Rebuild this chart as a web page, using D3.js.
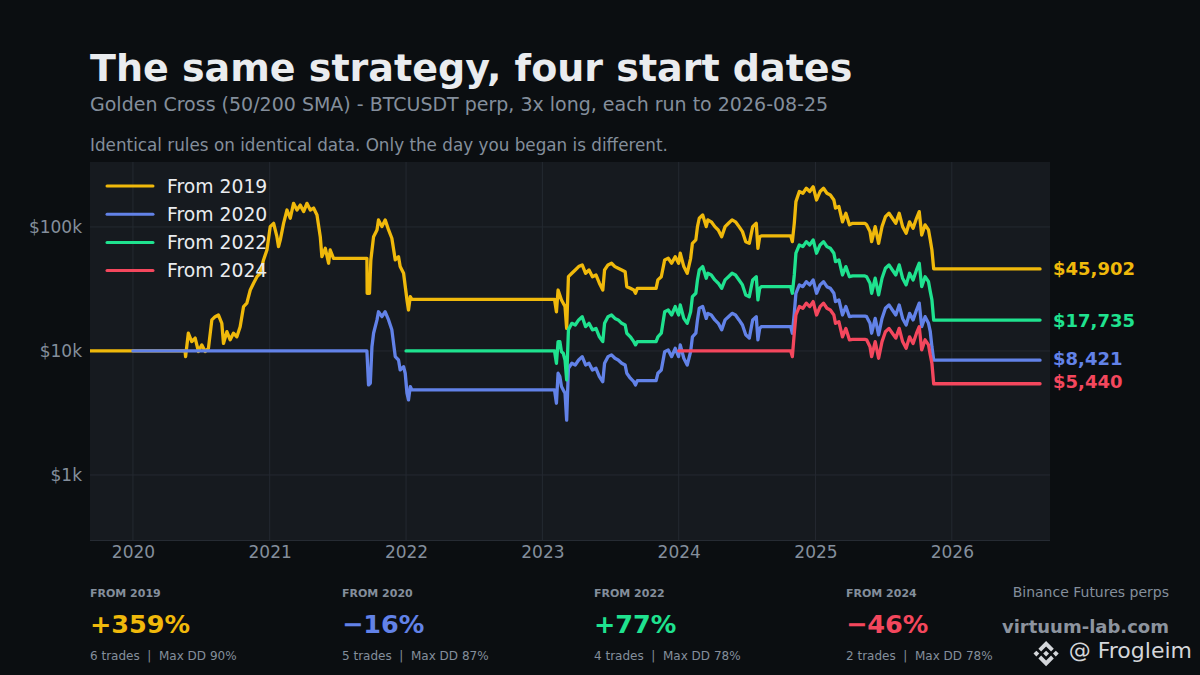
<!DOCTYPE html>
<html><head><meta charset="utf-8">
<script src="https://cdn.jsdelivr.net/npm/d3@7"></script>
<style>
html,body{margin:0;padding:0;background:#0b0e11;}
svg{display:block;font-family:"DejaVu Sans",sans-serif;}
</style></head><body>
<svg id="c" width="1200" height="675"></svg>
<script>
// ---------- data (x = decimal year, y = equity in USD) ----------
const seriesNames = ["From 2019", "From 2020", "From 2022", "From 2024"];
const seriesColors = ["#f0b90b", "#6282e8", "#1fe28f", "#f4475d"];
const finalValues = [45902, 8421, 17735, 5440];

const from2019 = [
[2019.685,10000],[2020.381,10000],[2020.385,9000],[2020.405,13900],[2020.430,11900],[2020.455,12700],[2020.479,9900],[2020.504,11200],[2020.528,9900],[2020.552,10500],[2020.577,17800],[2020.601,18900],[2020.625,19500],[2020.650,16700],[2020.662,11500],[2020.687,14300],[2020.711,12300],[2020.735,13900],[2020.760,13000],[2020.784,15700],[2020.809,22800],[2020.833,24300],[2020.858,31000],[2020.882,35200],[2020.907,39700],[2020.931,42300],[2020.955,54200],[2020.980,65200],[2021.004,100600],[2021.029,107000],[2021.053,83500],[2021.065,69400],[2021.078,78600],[2021.102,107000],[2021.127,137000],[2021.151,117500],[2021.175,155000],[2021.200,137000],[2021.224,150000],[2021.249,133000],[2021.273,155000],[2021.298,137000],[2021.322,142000],[2021.347,125000],[2021.371,83500],[2021.383,57600],[2021.408,67300],[2021.432,51000],[2021.444,65200],[2021.468,55900],[2021.713,55900],[2021.715,29200],[2021.732,29200],[2021.742,54200],[2021.762,83500],[2021.787,94600],[2021.798,114000],[2021.823,100600],[2021.847,114000],[2021.872,94600],[2021.896,81100],[2021.921,54200],[2021.945,57600],[2021.957,47900],[2021.982,42300],[2022.007,25800],[2022.018,21400],[2022.031,27400],[2022.043,26100],[2023.089,26100],
[2023.103,20700],[2023.115,31000],[2023.140,25800],[2023.166,22800],[2023.178,15200],[2023.191,39700],[2023.216,42300],[2023.241,45000],[2023.266,47900],[2023.292,49400],[2023.317,42300],[2023.342,45000],[2023.367,39700],[2023.393,41000],[2023.418,35200],[2023.443,31000],[2023.456,45000],[2023.481,49400],[2023.507,51000],[2023.532,47900],[2023.556,46400],[2023.582,45000],[2023.607,43600],[2023.619,33000],[2023.645,32000],[2023.670,31000],[2023.683,29200],[2023.696,32000],[2023.834,32000],[2023.847,37400],[2023.872,39700],[2023.897,54200],[2023.923,55900],[2023.948,51000],[2023.974,57600],[2023.999,51000],[2024.011,61400],[2024.037,47900],[2024.062,42300],[2024.087,55900],[2024.100,73800],[2024.125,78600],[2024.137,100600],[2024.150,117500],[2024.175,125000],[2024.201,100600],[2024.213,114000],[2024.238,110000],[2024.264,100600],[2024.289,94600],[2024.314,83500],[2024.339,100600],[2024.364,107000],[2024.390,114000],[2024.415,110000],[2024.441,100600],[2024.466,91700],[2024.490,76100],[2024.516,73800],[2024.541,100600],[2024.567,107000],[2024.579,67300],[2024.592,83500],[2024.604,84600],[2024.819,84600],[2024.831,76100],[2024.845,107000],[2024.857,160000],[2024.882,193000],[2024.908,187000],[2024.933,205000],[2024.958,193000],[2024.983,211000],[2025.008,165000],[2025.034,193000],[2025.059,205000],[2025.084,187000],[2025.109,181000],[2025.135,165000],[2025.147,142000],[2025.172,146000],[2025.198,110000],[2025.223,129000],[2025.249,104000],[2025.273,107000],[2025.362,107000],[2025.375,104000],[2025.400,91700],[2025.412,76100],[2025.438,100600],[2025.463,73800],[2025.488,100600],[2025.513,121000],[2025.539,129000],[2025.564,117500],[2025.589,107000],[2025.614,129000],[2025.639,100600],[2025.665,89000],[2025.690,110000],[2025.716,97600],[2025.741,117500],[2025.761,133000],[2025.779,86100],[2025.804,104000],[2025.829,94600],[2025.842,78600],[2025.854,65200],[2025.867,45902],[2026.647,45902]
];

const from2020 = [
[2020.0,10000],[2021.713,10000],[2021.725,5320],[2021.738,5490],[2021.750,10800],[2021.762,13900],[2021.787,17800],[2021.798,20700],[2021.823,18900],[2021.847,20700],[2021.872,17800],[2021.896,14800],[2021.921,9000],[2021.945,8460],[2021.957,7030],[2021.982,7470],[2021.994,6610],[2022.007,4560],[2022.018,4030],[2022.031,5160],[2022.043,4850],[2023.089,4850],[2023.103,3790],[2023.115,6610],[2023.128,6210],[2023.140,5160],[2023.153,4850],[2023.166,4560],[2023.178,2770],[2023.191,7250],[2023.216,7960],[2023.241,7710],[2023.266,8460],[2023.292,9000],[2023.317,7710],[2023.342,7960],[2023.367,7030],[2023.393,7250],[2023.418,6210],[2023.443,5650],[2023.456,7960],[2023.481,9000],[2023.507,9300],[2023.532,8730],[2023.556,8460],[2023.582,7960],[2023.607,7710],[2023.619,6610],[2023.645,6030],[2023.670,5650],[2023.683,5320],[2023.696,5760],[2023.834,5760],[2023.847,6610],[2023.872,7030],[2023.897,9870],[2023.923,10200],[2023.948,9000],[2023.974,10500],[2023.999,9000],[2024.011,11200],[2024.037,8730],[2024.062,7710],[2024.087,9870],[2024.100,13000],[2024.125,13900],[2024.137,17800],[2024.150,22100],[2024.175,22800],[2024.201,18300],[2024.213,20100],[2024.238,19500],[2024.264,17800],[2024.289,16700],[2024.314,14800],[2024.339,17800],[2024.364,18900],[2024.390,20100],[2024.415,19500],[2024.441,17800],[2024.466,16200],[2024.490,13500],[2024.516,12700],[2024.541,17800],[2024.567,18900],[2024.579,12300],[2024.592,15200],[2024.604,15700],[2024.819,15700],[2024.831,13900],[2024.845,20100],[2024.857,29200],[2024.882,34100],[2024.908,33000],[2024.933,36200],[2024.958,34100],[2024.983,37400],[2025.008,29200],[2025.034,34100],[2025.059,36200],[2025.084,33000],[2025.109,32000],[2025.135,29200],[2025.147,25000],[2025.172,25800],[2025.198,19500],[2025.223,22800],[2025.249,18900],[2025.273,19100],[2025.362,19100],[2025.375,18900],[2025.400,16700],[2025.412,13900],[2025.438,18300],[2025.463,13500],[2025.488,18300],[2025.513,22100],[2025.539,23500],[2025.564,21400],[2025.589,19500],[2025.614,23500],[2025.639,18300],[2025.665,16200],[2025.690,20100],[2025.716,17800],[2025.741,21400],[2025.761,24300],[2025.779,15700],[2025.804,18900],[2025.829,16700],[2025.842,14300],[2025.854,10800],[2025.867,8421],[2026.647,8421]
];

const from2022 = [
[2022.0,10000],[2023.089,10000],[2023.103,7960],[2023.115,11900],[2023.128,11900],[2023.140,9870],[2023.153,9580],[2023.166,8460],[2023.178,5840],[2023.191,14800],[2023.216,16700],[2023.241,16200],[2023.266,17800],[2023.292,18900],[2023.317,15700],[2023.342,16700],[2023.367,14800],[2023.393,15200],[2023.418,13000],[2023.443,11900],[2023.456,16700],[2023.481,18900],[2023.507,19500],[2023.532,18300],[2023.556,17800],[2023.582,16700],[2023.607,16200],[2023.619,13900],[2023.645,13000],[2023.670,11900],[2023.683,11200],[2023.696,11900],[2023.834,11900],[2023.847,13000],[2023.872,13900],[2023.897,20700],[2023.923,21400],[2023.948,19500],[2023.974,22800],[2023.999,19500],[2024.011,23500],[2024.037,18300],[2024.062,16700],[2024.087,20700],[2024.100,27400],[2024.125,29200],[2024.137,37400],[2024.150,45000],[2024.175,47900],[2024.201,38600],[2024.213,42300],[2024.238,41000],[2024.264,37400],[2024.289,35200],[2024.314,32000],[2024.339,37400],[2024.364,39700],[2024.390,42300],[2024.415,41000],[2024.441,37400],[2024.466,34100],[2024.490,28300],[2024.516,27400],[2024.541,37400],[2024.567,39700],[2024.579,25800],[2024.592,32000],[2024.604,33000],[2024.819,33000],[2024.831,29200],[2024.845,41000],[2024.857,61400],[2024.882,71600],[2024.908,69400],[2024.933,76100],[2024.958,71600],[2024.983,78600],[2025.008,61400],[2025.034,71600],[2025.059,76100],[2025.084,69400],[2025.109,67300],[2025.135,61400],[2025.147,52500],[2025.172,54200],[2025.198,41000],[2025.223,47900],[2025.249,39700],[2025.273,40300],[2025.362,40300],[2025.375,39700],[2025.400,35200],[2025.412,29200],[2025.438,38600],[2025.463,28300],[2025.488,38600],[2025.513,46400],[2025.539,49400],[2025.564,45000],[2025.589,41000],[2025.614,49400],[2025.639,38600],[2025.665,34100],[2025.690,42300],[2025.716,37400],[2025.741,45000],[2025.761,51000],[2025.779,33000],[2025.804,39700],[2025.829,36200],[2025.842,30100],[2025.854,25800],[2025.867,17735],[2026.647,17735]
];

const from2024 = [
[2024.0,10000],[2024.819,10000],[2024.831,9000],[2024.845,13900],[2024.857,19500],[2024.882,22800],[2024.908,22100],[2024.933,24300],[2024.958,22800],[2024.983,25000],[2025.008,19500],[2025.034,22800],[2025.059,24300],[2025.084,22100],[2025.109,21400],[2025.135,19500],[2025.147,16700],[2025.172,17200],[2025.198,13000],[2025.223,15200],[2025.249,12300],[2025.273,12400],[2025.362,12400],[2025.375,12300],[2025.400,10800],[2025.412,9000],[2025.438,11900],[2025.463,8730],[2025.488,11900],[2025.513,14300],[2025.539,15200],[2025.564,13900],[2025.589,12700],[2025.614,15200],[2025.639,11900],[2025.665,10500],[2025.690,13000],[2025.716,11500],[2025.741,13900],[2025.761,15700],[2025.779,10200],[2025.804,12300],[2025.829,11200],[2025.842,9280],[2025.854,7960],[2025.867,5440],[2026.647,5440]
];

const yTickValues = [1000, 10000, 100000];
const yTickLabels = ["$1k", "$10k", "$100k"];
const xTickYears = [2020, 2021, 2022, 2023, 2024, 2025, 2026];

const statLabels = ["FROM 2019", "FROM 2020", "FROM 2022", "FROM 2024"];
const statReturns = [359, -16, 77, -46];
const statTrades = [6, 5, 4, 2];
const statMaxDD = [90, 87, 78, 78];

// ---------- helpers ----------
const toDate = v => {
  const yr = Math.floor(v);
  const a = Date.UTC(yr, 0, 1), b = Date.UTC(yr + 1, 0, 1);
  return new Date(a + (v - yr) * (b - a));
};
const allSeries = [from2019, from2020, from2022, from2024];

const svg = d3.select("#c");
const W = 1200, H = 675;
const P = {l: 90, r: 1050, t: 162, b: 540};

svg.append("rect").attr("width", W).attr("height", H).attr("fill", "#0b0e11");

const x = d3.scaleUtc().domain([toDate(2019.685), toDate(2026.72)]).range([P.l, P.r]);
const y = d3.scaleLog().domain([299, 334000]).range([P.b, P.t]);

// titles
svg.append("text").attr("x", 90).attr("y", 81).attr("fill", "#eaecef")
  .attr("font-size", 38).attr("font-weight", "bold")
  .text("The same strategy, four start dates");
svg.append("text").attr("x", 90).attr("y", 111).attr("fill", "#848e9c")
  .attr("font-size", 19)
  .text("Golden Cross (50/200 SMA) - BTCUSDT perp, 3x long, each run to 2026-08-25");
svg.append("text").attr("x", 90).attr("y", 151).attr("fill", "#848e9c")
  .attr("font-size", 16.8)
  .text("Identical rules on identical data. Only the day you began is different.");

// plot background
svg.append("rect").attr("x", P.l).attr("y", P.t).attr("width", P.r - P.l).attr("height", P.b - P.t)
  .attr("fill", "#161a1f");

// grid
const grid = svg.append("g");
grid.selectAll("line.v").data(xTickYears).join("line")
  .attr("x1", d => x(toDate(d))).attr("x2", d => x(toDate(d)))
  .attr("y1", P.t).attr("y2", P.b).attr("stroke", "#242931").attr("stroke-width", 1);
grid.selectAll("line.h").data(yTickValues).join("line")
  .attr("x1", P.l).attr("x2", P.r)
  .attr("y1", d => y(d)).attr("y2", d => y(d)).attr("stroke", "#242931").attr("stroke-width", 1);
svg.append("line").attr("x1", P.l).attr("x2", P.r).attr("y1", P.b + 0.5).attr("y2", P.b + 0.5)
  .attr("stroke", "#262b33");

// axes
const xAxis = d3.axisBottom(x).tickValues(xTickYears.map(toDate))
  .tickFormat(d3.utcFormat("%Y")).tickSize(0).tickPadding(6);
const gx = svg.append("g").attr("transform", `translate(0,${P.b})`).call(xAxis);
gx.select(".domain").remove();
gx.selectAll("text").attr("fill", "#848e9c").attr("font-size", 17).attr("font-family", "DejaVu Sans");

const yAxis = d3.axisLeft(y).tickValues(yTickValues)
  .tickFormat((d, i) => yTickLabels[i]).tickSize(0).tickPadding(8);
const gy = svg.append("g").attr("transform", `translate(${P.l},0)`).call(yAxis);
gy.select(".domain").remove();
gy.selectAll("text").attr("fill", "#848e9c").attr("font-size", 17).attr("font-family", "DejaVu Sans");

// lines
svg.append("clipPath").attr("id", "clip").append("rect")
  .attr("x", P.l).attr("y", P.t).attr("width", P.r - P.l).attr("height", P.b - P.t);
const line = d3.line().x(d => x(toDate(d[0]))).y(d => y(d[1])).curve(d3.curveLinear);
const gl = svg.append("g").attr("clip-path", "url(#clip)");
allSeries.forEach((s, i) => {
  gl.append("path").datum(s).attr("d", line).attr("fill", "none")
    .attr("stroke", seriesColors[i]).attr("stroke-width", 3.3)
    .attr("stroke-linejoin", "round").attr("stroke-linecap", "round");
});

// end labels
const fmt = d3.format("$,.0f");
const labelOffsets = [0, -2, 0, -2];
allSeries.forEach((s, i) => {
  svg.append("text").attr("x", 1053).attr("y", y(finalValues[i]) + labelOffsets[i])
    .attr("dy", "0.36em").attr("fill", seriesColors[i]).attr("font-weight", "bold")
    .attr("font-size", 18).text(fmt(finalValues[i]));
});

// legend
const lg = svg.append("g");
seriesNames.forEach((n, i) => {
  const yy = 186 + i * 28.2;
  lg.append("line").attr("x1", 107).attr("x2", 153).attr("y1", yy).attr("y2", yy)
    .attr("stroke", seriesColors[i]).attr("stroke-width", 3).attr("stroke-linecap", "round");
  lg.append("text").attr("x", 167).attr("y", yy).attr("dy", "0.36em")
    .attr("fill", "#eaecef").attr("font-size", 18.8).text(n);
});

// stats row
const fmtRet = v => (v >= 0 ? "+" : "\u2212") + Math.abs(v) + "%";
statLabels.forEach((lab, i) => {
  const sx = 90 + i * 252;
  svg.append("text").attr("x", sx).attr("y", 597).attr("fill", "#848e9c")
    .attr("font-size", 11).attr("font-weight", "bold").text(lab);
  svg.append("text").attr("x", sx).attr("y", 633).attr("fill", seriesColors[i])
    .attr("font-size", 25.5).attr("font-weight", "bold").text(fmtRet(statReturns[i]));
  svg.append("text").attr("x", sx).attr("y", 660).attr("fill", "#848e9c")
    .attr("font-size", 12).style("white-space", "pre")
    .text(`${statTrades[i]} trades  |  Max DD ${statMaxDD[i]}%`);
});

// brand block
svg.append("text").attr("x", 1169).attr("y", 597).attr("text-anchor", "end")
  .attr("fill", "#848e9c").attr("font-size", 14).text("Binance Futures perps");
svg.append("text").attr("x", 1169).attr("y", 633).attr("text-anchor", "end")
  .attr("fill", "#8d949f").attr("font-size", 18).attr("font-weight", "bold").text("virtuum-lab.com");
svg.append("text").attr("x", 1192).attr("y", 658).attr("text-anchor", "end")
  .attr("fill", "#d4d6da").attr("font-size", 22).text("@ Frogleim");

// Binance-style logo mark
const logoPolys = [
  [[24.5,38.5],[63,0],[101.5,38.5],[87.8,52.9],[63,28.1],[38.2,52.9]],
  [[24.5,87.5],[63,126],[101.5,87.5],[87.8,73.1],[63,97.9],[38.2,73.1]],
  [[0,63],[14.4,48.6],[28.8,63],[14.4,77.4]],
  [[97.2,63],[111.6,48.6],[126,63],[111.6,77.4]],
  [[48.4,63],[63,48.4],[77.6,63],[63,77.6]]
];
const logo = svg.append("g").attr("transform", "translate(1033.5,641) scale(0.2)");
logo.selectAll("path").data(logoPolys).join("path")
  .attr("d", d => "M" + d.map(p => p.join(",")).join("L") + "Z")
  .attr("fill", "#d4d6da");
</script>
</body></html>
